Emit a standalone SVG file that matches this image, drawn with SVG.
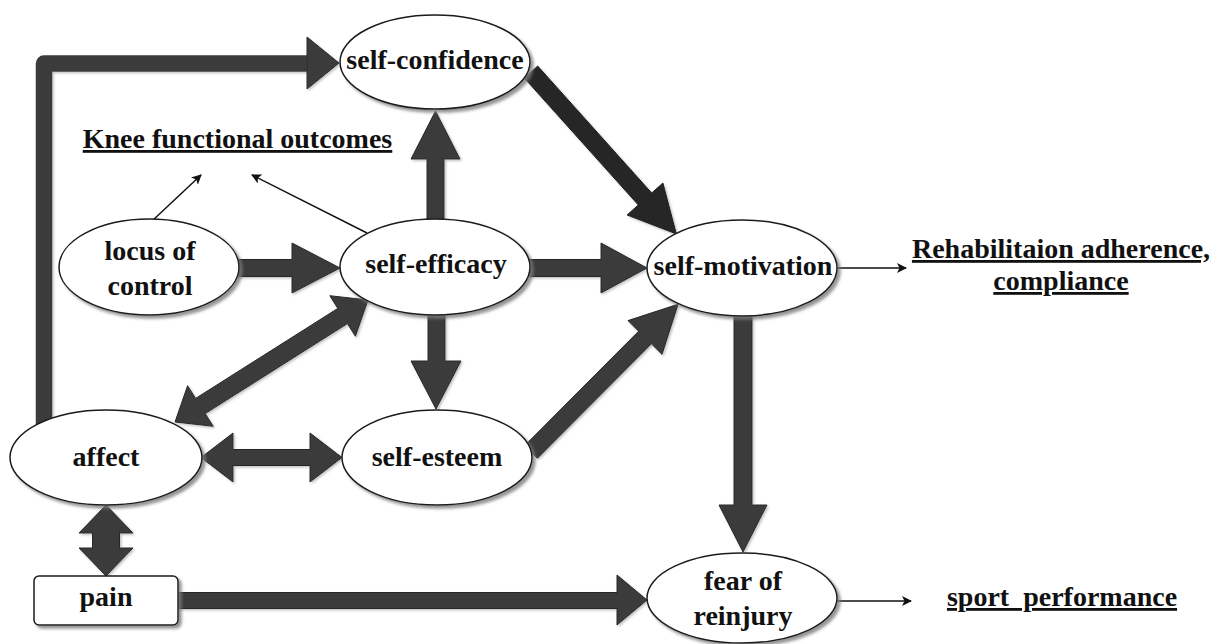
<svg xmlns="http://www.w3.org/2000/svg" width="1228" height="644" viewBox="0 0 1228 644">
<defs>
<filter id="sh" x="-10%" y="-10%" width="125%" height="130%">
<feDropShadow dx="3" dy="3" stdDeviation="1.5" flood-color="#7a7a7a" flood-opacity="0.8"/>
</filter>
<filter id="ash" x="-10%" y="-10%" width="125%" height="125%">
<feDropShadow dx="1.5" dy="1.5" stdDeviation="1" flood-color="#999" flood-opacity="0.6"/>
</filter>
<marker id="tip" viewBox="0 0 10 10" refX="9" refY="5" markerWidth="10" markerHeight="10" markerUnits="userSpaceOnUse" orient="auto">
<path d="M0,0 L10,5 L0,10 L2.5,5 Z" fill="#111"/>
</marker>
<style>
.nd{fill:#fff;stroke:#1a1a1a;stroke-width:1.5;filter:url(#sh)}
.t{font-family:'Liberation Serif','Times New Roman',serif;font-weight:700;font-size:28px;fill:#111;text-anchor:middle}
.u{text-decoration:underline}
.blk{fill:#3b3b3b;stroke:#262626;stroke-width:1;filter:url(#ash)}
.dk{fill:#262626;stroke:#1a1a1a;stroke-width:1;filter:url(#ash)}
.thin{stroke:#111;stroke-width:1.5;fill:none;marker-end:url(#tip)}
</style>
</defs>
<rect width="1228" height="644" fill="#fff"/>

<g id="connectors">
<path d="M44,425 V63.5 H309" fill="none" stroke="#3b3b3b" stroke-width="16.5" stroke-linejoin="round" filter="url(#ash)"/>
<polygon class="blk" points="307,37 339,63 307,89"/>
<polygon class="blk" points="427,222 427,159 411,159 435.5,111 460,159 444,159 444,222"/>
<polygon class="blk" points="236,259.5 292,259.5 292,243 340,268 292,293 292,276.5 236,276.5"/>
<polygon class="blk" points="528,259.5 601,259.5 601,243 647,268 601,293 601,276.5 528,276.5"/>
<polygon class="dk" points="524.3,78 537.7,66 651.7,193 662.9,183 676.4,234 627.1,215 638.3,205"/>
<polygon class="blk" points="524.6,445.7 638.6,331.2 628,320.6 678.1,304.2 662,354.4 651.4,343.8 537.4,458.3"/>
<polygon class="blk" points="428,312 445,312 445,361 461,361 436,409 411,361 428,361"/>
<polygon class="blk" points="175,422 187.6,385.7 195.6,398.4 337.8,308.4 329.8,295.7 368,300 355.4,336.3 347.4,323.6 205.2,413.6 213.2,426.3"/>
<polygon class="blk" points="201,457.5 233,433 233,449.5 310,449.5 310,433 342,457.5 310,482 310,465.5 233,465.5 233,482"/>
<polygon class="blk" points="106,505 133,533 119.5,533 119.5,548 133,548 106,576 79,548 92.5,548 92.5,533 79,533"/>
<polygon class="blk" points="176,592.5 617,592.5 617,575 647,600 617,625 617,608.5 176,608.5"/>
<polygon class="blk" points="734,312 752,312 752,505 767,505 743,552 719,505 734,505"/>
<line class="thin" x1="152" y1="221" x2="201" y2="175"/>
<line class="thin" x1="367" y1="233" x2="252" y2="175"/>
<line class="thin" x1="837" y1="268" x2="906" y2="268"/>
<line class="thin" x1="837" y1="601" x2="911" y2="601"/>
</g>

<g id="self-confidence">
<ellipse class="nd" cx="435" cy="62" rx="95" ry="47"/>
<text class="t" x="435" y="69">self-confidence</text>
</g>
<g id="knee-functional-outcomes">
<text class="t u" x="237.5" y="148">Knee functional outcomes</text>
</g>
<g id="locus-of-control">
<ellipse class="nd" cx="149" cy="267" rx="90" ry="48"/>
<text class="t" x="150" y="260">locus of</text>
<text class="t" x="150" y="295">control</text>
</g>
<g id="self-efficacy">
<ellipse class="nd" cx="435" cy="267" rx="95" ry="48"/>
<text class="t" x="436" y="273">self-efficacy</text>
</g>
<g id="self-motivation">
<ellipse class="nd" cx="742" cy="268" rx="95" ry="48"/>
<text class="t" x="743" y="275">self-motivation</text>
</g>
<g id="rehabilitation-adherence">
<text class="t u" x="1061" y="258">Rehabilitaion adherence,</text>
<text class="t u" x="1061" y="290">compliance</text>
</g>
<g id="affect">
<ellipse class="nd" cx="106" cy="457.5" rx="96" ry="47.5"/>
<text class="t" x="106" y="466">affect</text>
</g>
<g id="self-esteem">
<ellipse class="nd" cx="437" cy="457.5" rx="95" ry="47.5"/>
<text class="t" x="437" y="466">self-esteem</text>
</g>
<g id="pain">
<rect class="nd" x="34" y="576" width="144" height="49" rx="5"/>
<text class="t" x="106" y="606">pain</text>
</g>
<g id="fear-of-reinjury">
<ellipse class="nd" cx="742" cy="598" rx="95" ry="45"/>
<text class="t" x="743" y="590">fear of</text>
<text class="t" x="743" y="625">reinjury</text>
</g>
<g id="sport-performance">
<text class="t u" x="1062" y="606" xml:space="preserve">sport  performance</text>
</g>
</svg>
